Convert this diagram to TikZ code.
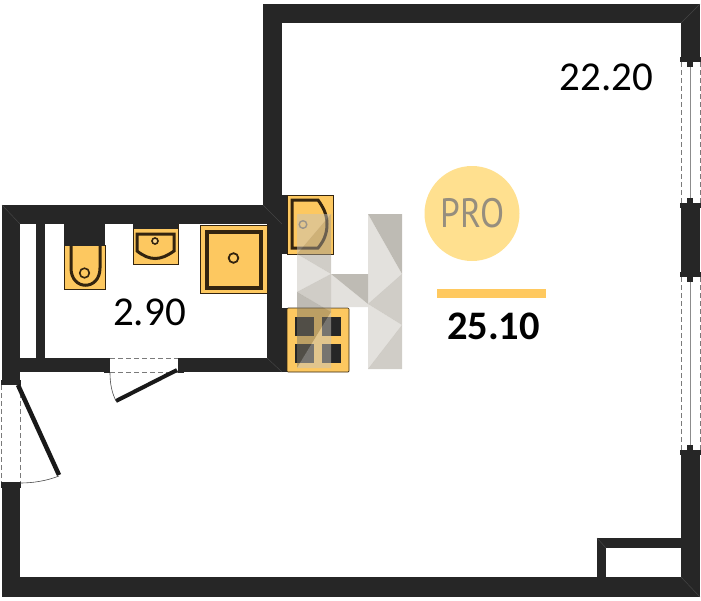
\documentclass[tikz,border=0pt]{standalone}
\usepackage{fontspec}
\setmainfont{Carlito}
\newfontfamily\prof{PT Sans}
\definecolor{wall}{HTML}{262626}
\definecolor{mitre}{HTML}{444444}
\definecolor{fix}{HTML}{FDC860}
\definecolor{fixline}{HTML}{33240F}
\definecolor{procirc}{HTML}{FFE08F}
\definecolor{probar}{HTML}{FFC95F}
\definecolor{protext}{HTML}{968E7E}
\definecolor{dashc}{HTML}{7A7A7A}
\definecolor{wma}{HTML}{7D7769}
\definecolor{wmb}{HTML}{A19B8F}
\definecolor{wmc}{HTML}{C7C3BB}
\tikzset{
  wallfill/.style={fill=wall,draw=none},
  fixture/.style={fill=fix,draw=fixline,line width=0.7pt},
  fixstroke/.style={draw=fixline,line width=3pt},
  leaf/.style={draw=black!90,line width=4.5pt},
  swing/.style={draw=black!70,line width=0.6pt},
  opening/.style={draw=dashc,line width=0.8pt,dash pattern=on 5pt off 3pt},
  glass/.style={draw=gray!90,line width=1pt},
  wm/.style={draw=none,fill opacity=0.5},
  mitreline/.style={draw=mitre,line width=0.5pt}
}
\begin{document}
\begin{tikzpicture}[x=1pt,y=-1pt]
\useasboundingbox (0,0) rectangle (701,600);
% walls
\fill[wallfill] (263,4) rectangle (700,23);
\fill[wallfill] (263,4) rectangle (282,224);
\fill[wallfill] (267,205) rectangle (282,372);
\fill[wallfill] (2,205) rectangle (282,224);
\fill[wallfill] (2,205) rectangle (20,380);
\fill[wallfill] (36,224) rectangle (45,358);
\fill[wallfill] (2,358) rectangle (108,372);
\fill[wallfill] (180,358) rectangle (282,372);
\fill[wallfill] (2,487) rectangle (20,597);
\fill[wallfill] (2,577) rectangle (700,597);
\fill[wallfill] (681,4) rectangle (700,60);
\fill[wallfill] (681,205) rectangle (700,275);
\fill[wallfill] (681,452) rectangle (700,597);
\fill[wallfill] (597,538) rectangle (681,548);
\fill[wallfill] (597,538) rectangle (606,577);
\draw[mitreline] (2,205) -- (20,224);
\draw[mitreline] (700,4) -- (681,23);
\draw[mitreline] (700,597) -- (681,577);
\draw[mitreline] (597,538) -- (606,548);
\draw[mitreline] (263,205) -- (282,224);
\draw[mitreline] (267,358) -- (282,372);
% right windows
\foreach \ya/\yb in {60/205,275/452}{
  \fill[wallfill] (680,\ya-3) rectangle (701,\ya+2);
  \fill[wallfill] (680,\yb-2) rectangle (701,\yb+3);
  \fill[wallfill] (687,\ya+2) rectangle (693,\ya+7);
  \fill[wallfill] (687,\yb-7) rectangle (693,\yb-2);
  \draw[glass] (690,\ya+7) -- (690,\yb-7);
  \draw[opening] (681,\ya+2) -- (681,\yb-2);
  \draw[opening] (700,\ya+2) -- (700,\yb-2);
}
% entrance door
\fill[wallfill] (1,380) rectangle (21,385);
\fill[wallfill] (1,482) rectangle (21,488);
\draw[opening] (1,385) -- (1,482);
\draw[opening] (20,385) -- (20,482);
\draw[leaf] (18,385) -- (59,475);
\draw[swing] (59,476) .. controls (46,481) and (33,483) .. (20,483);
% bathroom door
\fill[wallfill] (104,358) rectangle (110,373);
\fill[wallfill] (178,358) rectangle (184,373);
\draw[opening] (110,358) -- (178,358);
\draw[opening] (110,372) -- (178,372);
\draw[leaf,line width=4pt] (177,370) -- (116,401);
\draw[swing] (116,401) .. controls (112,393) and (110,384) .. (110,373);
% toilet
\fill[fix,draw=fixline,line width=0.7pt] (64,245) rectangle (105,289);
\fill[wallfill] (64,224) rectangle (105,246);
\draw[fixstroke] (71,246) -- (71,268) .. controls (71,291) and (100,291) .. (100,268) -- (100,246);
\draw[fixline,line width=1.6pt] (84.5,273) circle (4.8);
% wash basin
\fill[fix,draw=fixline,line width=0.7pt] (133,224) rectangle (178,264);
\fill[wallfill] (133,224) rectangle (178,229);
\draw[fixstroke] (137,234) -- (174,234) -- (174,251) .. controls (160,261) and (150,261) .. (137,251) -- cycle;
\draw[fixline,line width=1.6pt,fill=fix!70!white] (155,241) circle (3);
% shower
\fill[fixture] (200,225) rectangle (267,293);
\draw[fixstroke,line width=3.6pt] (207,232) rectangle (261,288);
\draw[fixline,line width=1.8pt] (233.5,258) circle (4.8);
% kitchen sink
\fill[wallfill] (282,195) rectangle (287,254);
\fill[fixture] (287,195) rectangle (333,254);
\draw[fixstroke] (292,200) -- (318,200) .. controls (323,207) and (327,214) .. (327,224) .. controls (327,235) and (323,242) .. (318,248) -- (292,248) -- cycle;
\draw[fixline!70,line width=1.4pt] (303,224.5) circle (3.8);
% cooker
\fill[wallfill] (282,308) rectangle (287,372);
\fill[fixture,rounded corners=1pt] (287,308) rectangle (349,372);
\foreach \xx/\yy in {295/317,322/317,295/344,322/344}
  \fill[wall] (\xx,\yy) rectangle (\xx+19,\yy+19);
% watermark logo
\fill[wm,wmc] (297,214) -- (331,214) -- (297,254) -- cycle;
\fill[wm,wmb] (331,214) -- (331,274) -- (297,254) -- cycle;
\fill[wm,wmc] (297,254) -- (331,274) -- (297,292) -- cycle;
\fill[wm,wmb] (297,292) -- (331,274) -- (331,312) -- cycle;
\fill[wm,wma] (297,292) -- (331,312) -- (297,368) -- cycle;
\fill[wm,wmc] (331,312) -- (331,368) -- (297,368) -- cycle;
\fill[wm,wma] (331,274) -- (368,274) -- (368,304) -- cycle;
\fill[wm,wmc] (331,274) -- (368,304) -- (368,307) -- (331,307) -- cycle;
\fill[wm,wma] (368,214) -- (402,214) -- (402,274) -- cycle;
\fill[wm,wmc] (368,214) -- (402,274) -- (368,304) -- cycle;
\fill[wm,wmb] (368,304) -- (402,274) -- (402,325) -- cycle;
\fill[wm,wmc] (368,304) -- (402,325) -- (368,369) -- cycle;
\fill[wm,wmb] (368,369) -- (402,325) -- (402,369) -- cycle;
% pro badge
\fill[procirc] (472,213.5) circle (47.5);
\node[text=protext,font=\prof\fontsize{41}{41}\selectfont,inner sep=0pt] (pro) at (472.5,213.5) {\scalebox{.86}[1]{PRO}};
\fill[probar] (437,289) rectangle (546,298);
\node[font=\bfseries\fontsize{40.5}{40.5}\selectfont,inner sep=0pt,text=black] (total) at (493.5,326) {25.10};
\node[font=\fontsize{41}{41}\selectfont,inner sep=0pt,text=black] (room) at (606.5,77) {22.20};
\node[font=\fontsize{41}{41}\selectfont,inner sep=0pt,text=black] (bath) at (149.5,312) {2.90};
\end{tikzpicture}
\end{document}
